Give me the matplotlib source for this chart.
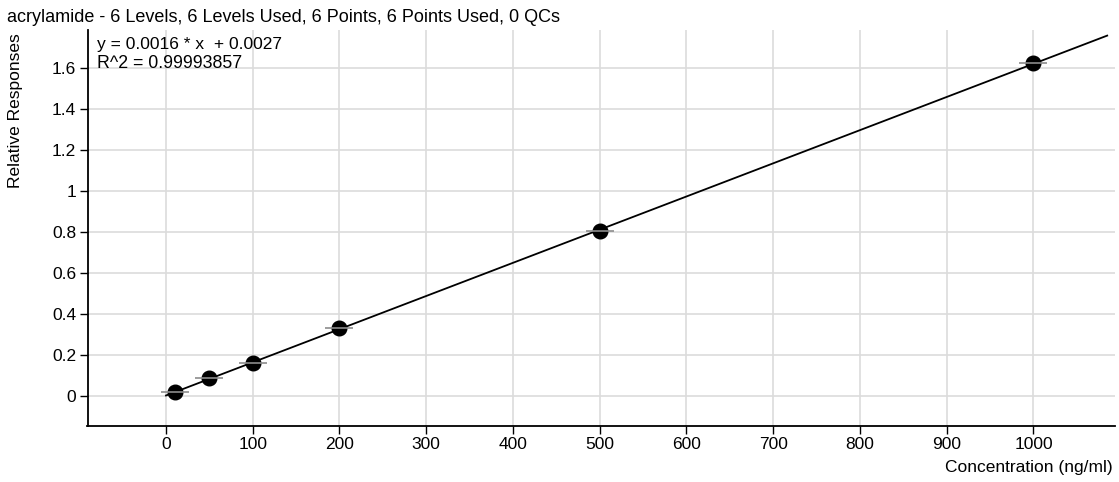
import numpy as np
import matplotlib
matplotlib.use("Agg")
import matplotlib.pyplot as plt

# Calibration data for acrylamide
conc = [10, 50, 100, 200, 500, 1000]
resp = [0.021, 0.086, 0.160, 0.330, 0.805, 1.623]

title = "acrylamide - 6 Levels, 6 Levels Used, 6 Points, 6 Points Used, 0 QCs"
eq_line = "y = 0.0016 * x  + 0.0027"
r2_line = "R^2 = 0.99993857"
x_ticks = [0, 100, 200, 300, 400, 500, 600, 700, 800, 900, 1000]
y_ticks = [0, 0.2, 0.4, 0.6, 0.8, 1.0, 1.2, 1.4, 1.6]
y_ticklabels = ["0", "0.2", "0.4", "0.6", "0.8", "1", "1.2", "1.4", "1.6"]

plt.rcParams['font.family'] = ['Liberation Sans', 'DejaVu Sans']
fs = 12.5

W, H = 1119, 482
fig = plt.figure(figsize=(W/100, H/100), dpi=100)
ax = fig.add_axes([87.5/W, 1 - 426/H, (1115 - 87.5)/W, (426 - 30)/H])

# fitted line
slope, intercept = np.polyfit(conc, resp, 1)
xs = np.array([0, 1085])
ax.plot(xs, slope*xs + intercept, color='black', lw=1.3, zorder=3)

# points with grey bars
ax.plot(conc, resp, ls='none', marker='o', ms=10.5, color='black', zorder=4)
ax.plot(conc, resp, ls='none', marker='_', ms=19.5, mew=1.2, color='#8c8c8c', zorder=5)

ax.set_xlim(-90.5, 1094)
ax.set_ylim(-0.146, 1.785)
ax.set_xticks(x_ticks)
ax.set_yticks(y_ticks)
ax.set_yticklabels(y_ticklabels)
ax.grid(True, color='#dcdcdc', lw=1.2)
ax.set_axisbelow(True)
for s in ['top', 'right']:
    ax.spines[s].set_visible(False)
for s in ['left', 'bottom']:
    ax.spines[s].set_linewidth(1.3)
ax.tick_params(direction='out', length=6, width=1, labelsize=fs)
ax.tick_params(axis='x', pad=2)
ax.tick_params(axis='y', pad=2.2)

fig.text(97/W, 1 - 48.5/H, eq_line, ha='left', va='baseline', fontsize=fs)
fig.text(97/W, 1 - 67.5/H, r2_line, ha='left', va='baseline', fontsize=12.8)
fig.text(7/W, 1 - 22/H, title, ha='left', va='baseline', fontsize=13)
fig.text(16/W, 1 - 111/H, "Relative Responses", rotation=90, ha='center', va='center', fontsize=fs)
fig.text(1113/W, 1 - 472/H, "Concentration (ng/ml)", ha='right', va='baseline', fontsize=fs)

fig.savefig("out.png", dpi=100)
